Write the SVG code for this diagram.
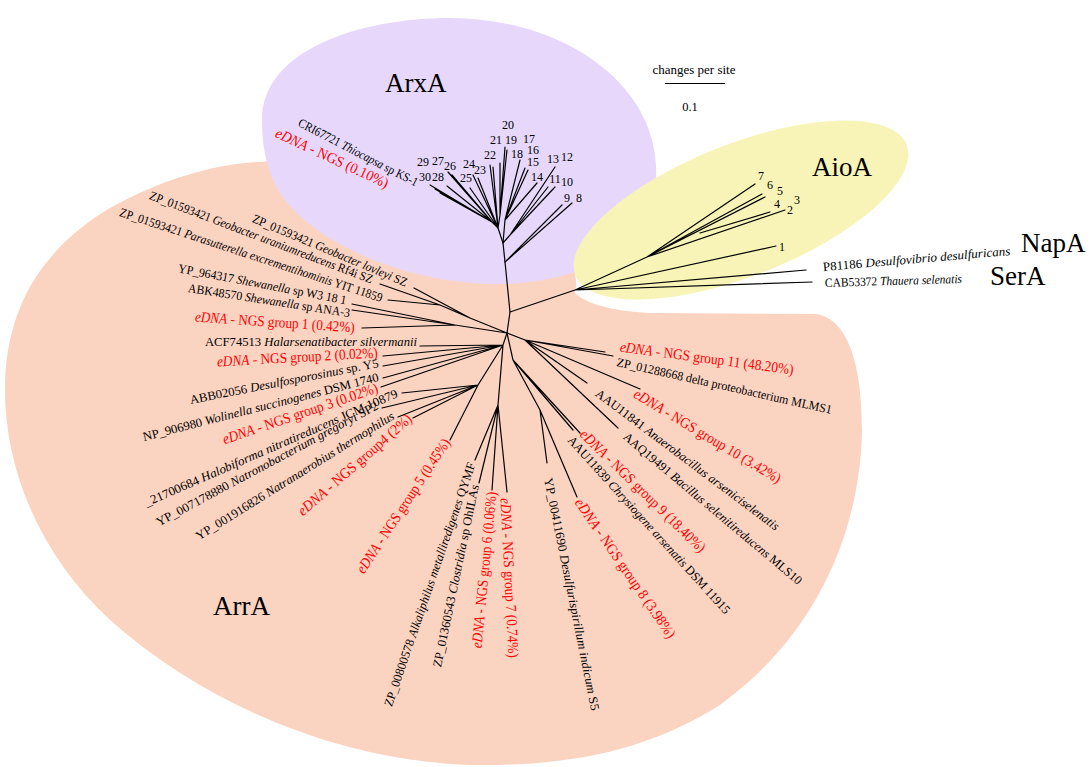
<svg xmlns="http://www.w3.org/2000/svg" width="1092" height="767" viewBox="0 0 1092 767">
<style>
text{font-family:"Liberation Serif","Times New Roman",serif;}
.b{font-size:12.5px;fill:#000;}
.r{font-size:15px;fill:#ff0000;}
.n{font-size:12px;fill:#000;text-anchor:middle;}
.big{font-size:27px;fill:#000;}
.i{font-style:italic;}
.br{fill:none;stroke:#000;stroke-width:1.2;stroke-linecap:round;}
</style>
<rect width="1092" height="767" fill="#fff"/>
<g id="regions">
<path id="ArrA-region" fill="#FBD3C1" d="M575,293 C585,303 610,311 650,313 L815,314 C850,318 862,370 862,430 C860,540 810,640 720,705 C640,755 560,766 470,765 C330,760 200,700 110,620 C40,555 5,470 5,390 C5,310 40,250 110,208 C160,180 215,163 262,162 L330,150 C420,150 520,200 560,240 C575,262 578,280 575,293 Z"/>
<path id="ArxA-region" fill="#E7D8FB" d="M262,120 C262,50 360,18 450,18 C560,18 652,80 656,165 C660,245 585,283 500,284 C410,285 320,245 285,200 C268,178 262,150 262,120 Z"/>
<ellipse id="AioA-region" fill="#F8F4B8" cx="741" cy="210" rx="178" ry="66" transform="rotate(-21.5 741 210)"/>
</g>
<g id="connectors" class="br">
<path d="M507,333 L510,312 L505,262 L503,243 L498,228"/>
<path d="M510,312 L575,290 M575,290 L806,270 M575,290 L812,282 M575,290 L776,246 M575,290 L647,257 M647,257 L755,184 M647,257 L762,194 M647,257 L765,197 M647,257 L785,210 M700,233 L770,212"/>
<path d="M505,262 L572,203 M505,262 L562,205 M503,243 L510,235 M510,235 L555,167 M510,235 L548,187 M510,235 L555,187 M503,243 L505,220 M505,220 L520,160 M505,220 L525,168 M505,220 L528,170 M505,220 L537,183 M498,228 L500,215 M500,215 L505,147 M500,215 L507,150 M500,215 L500,163 M498,228 L492,222 M492,222 L430,185 M492,222 L435,189 M492,222 L440,193 M492,222 L447,186 M492,222 L448,172 M492,222 L452,175 M498,228 L470,188 M498,228 L473,175 M498,228 L478,178 M498,228 L493,167 M498,228 L490,165"/>
<path d="M507,333 L470,318 M470,318 L440,305 M440,305 L380,284 M440,305 L388,300 M470,318 L414,288 M507,333 L455,325 M455,325 L352,304 M455,325 L352,310 M455,325 L362,328"/>
<path d="M507,333 L503,345 M503,345 L420,346 M503,345 L383,356 M503,345 L383,366 M503,345 L383,378 M503,345 L381,387 M503,345 L478,385 M478,385 L402,393 M478,385 L382,408 M478,385 L398,417 M478,385 L413,418 M478,385 L450,440 M503,345 L498,405 M498,405 L475,460 M498,405 L479,483 M498,405 L492,490 M498,405 L507,492"/>
<path d="M507,333 L513,360 M513,360 L540,410 M540,410 L547,463 M540,410 L577,497 M513,360 L573,430 M513,360 L580,433 M507,333 L525,340 M525,340 L605,352 M525,340 L613,356 M525,340 L587,383 M525,340 L640,389 M525,340 L618,428"/>
</g>
<g id="clade-labels">
<text class="big" x="385" y="92">ArxA</text>
<text class="big" x="812" y="176">AioA</text>
<text class="big" x="1021" y="252">NapA</text>
<text class="big" x="990" y="285">SerA</text>
<text class="big" x="213" y="615">ArrA</text>
</g>
<g id="scale">
<text x="694" y="74" style="font-size:13px;text-anchor:middle">changes per site</text>
<path d="M665,83.5 L725,83.5" stroke="#000" stroke-width="1.2"/>
<text x="690" y="111" style="font-size:12.5px;text-anchor:middle">0.1</text>
</g>
<g id="arxa-tips">
<text class="n" x="508" y="129">20</text>
<text class="n" x="496" y="144">21</text>
<text class="n" x="511" y="144">19</text>
<text class="n" x="529" y="143">17</text>
<text class="n" x="490" y="159">22</text>
<text class="n" x="517" y="158">18</text>
<text class="n" x="533" y="154">16</text>
<text class="n" x="533" y="166">15</text>
<text class="n" x="553" y="163">13</text>
<text class="n" x="567" y="161">12</text>
<text class="n" x="537" y="181">14</text>
<text class="n" x="555" y="183">11</text>
<text class="n" x="567" y="186">10</text>
<text class="n" x="567" y="202">9</text>
<text class="n" x="579" y="202">8</text>
<text class="n" x="423" y="166">29</text>
<text class="n" x="438" y="165">27</text>
<text class="n" x="450" y="170">26</text>
<text class="n" x="425" y="181">30</text>
<text class="n" x="438" y="181">28</text>
<text class="n" x="469" y="168">24</text>
<text class="n" x="480" y="174">23</text>
<text class="n" x="466" y="182">25</text>
<text class="b" transform="translate(297.2,125.6) rotate(27.3)" textLength="133" lengthAdjust="spacingAndGlyphs">CRI67721 <tspan class="i">Thiocapsa</tspan> sp KS-1</text>
<text class="r" transform="translate(274.3,136.6) rotate(24.9)" textLength="123" lengthAdjust="spacingAndGlyphs"><tspan class="i">eDNA</tspan> - NGS (0.10%)</text>
</g>
<g id="aioa-tips">
<text class="n" x="761" y="180">7</text>
<text class="n" x="770" y="189">6</text>
<text class="n" x="780" y="195">5</text>
<text class="n" x="797" y="204">3</text>
<text class="n" x="777" y="208">4</text>
<text class="n" x="790" y="214">2</text>
<text class="n" x="782" y="251">1</text>
</g>
<g id="outgroup-tips">
<text class="b" transform="translate(823.3,271) rotate(-4.9)" textLength="188" lengthAdjust="spacingAndGlyphs">P81186 <tspan class="i">Desulfovibrio desulfuricans</tspan></text>
<text class="b" transform="translate(825.1,287) rotate(-1.7)" textLength="137" lengthAdjust="spacingAndGlyphs">CAB53372 <tspan class="i">Thauera selenatis</tspan></text>
</g>
<g id="arra-tips">
<text class="b" transform="translate(251.4,221.7) rotate(22.9)" textLength="167" lengthAdjust="spacingAndGlyphs">ZP_01593421 <tspan class="i">Geobacter lovleyi</tspan> SZ</text>
<text class="b" transform="translate(148.6,198.7) rotate(20.9)" textLength="238" lengthAdjust="spacingAndGlyphs">ZP_01593421 <tspan class="i">Geobacter uraniumreducens</tspan> Rf4i SZ</text>
<text class="b" transform="translate(118.8,215.8) rotate(18.2)" textLength="276" lengthAdjust="spacingAndGlyphs">ZP_01593421 <tspan class="i">Parasutterella excrementihominis</tspan> YIT 11859</text>
<text class="b" transform="translate(177.6,272.2) rotate(10.8)" textLength="171" lengthAdjust="spacingAndGlyphs">YP_964317 <tspan class="i">Shewanella</tspan> sp W3 18 1</text>
<text class="b" transform="translate(187.4,292) rotate(8.8)" textLength="164" lengthAdjust="spacingAndGlyphs">ABK48570 <tspan class="i">Shewanella</tspan> sp ANA-3</text>
<text class="r" transform="translate(194.7,321.5) rotate(3.9)" textLength="160" lengthAdjust="spacingAndGlyphs"><tspan class="i">eDNA</tspan> - NGS group 1 (0.42%)</text>
<text class="b" transform="translate(205,346)" textLength="212" lengthAdjust="spacingAndGlyphs">ACF74513 <tspan class="i">Halarsenatibacter silvermanii</tspan></text>
<text class="r" transform="translate(217.2,366.5) rotate(-3.2)" textLength="161" lengthAdjust="spacingAndGlyphs"><tspan class="i">eDNA</tspan> - NGS group 2 (0.02%)</text>
<text class="b" transform="translate(190.8,403.9) rotate(-11.1)" textLength="192" lengthAdjust="spacingAndGlyphs">ABB02056 <tspan class="i">Desulfosporosinus</tspan> sp. Y5</text>
<text class="b" transform="translate(144,440.9) rotate(-14.3)" textLength="243" lengthAdjust="spacingAndGlyphs">NP_906980 <tspan class="i">Wolinella succinogenes</tspan> DSM 1740</text>
<text class="r" transform="translate(224.5,444.3) rotate(-18.7)" textLength="163" lengthAdjust="spacingAndGlyphs"><tspan class="i">eDNA</tspan> - NGS group 3 (0.02%)</text>
<text class="b" transform="translate(146.6,506.7) rotate(-23.6)" textLength="275" lengthAdjust="spacingAndGlyphs">_21700684 <tspan class="i">Halobiforma nitratireducens</tspan> JCM 10879</text>
<text class="b" transform="translate(158.9,526.5) rotate(-28.2)" textLength="250" lengthAdjust="spacingAndGlyphs">YP_007178880 <tspan class="i">Natronobacterium gregoryi</tspan> SP2</text>
<text class="b" transform="translate(199.1,540.4) rotate(-31.9)" textLength="231" lengthAdjust="spacingAndGlyphs">YP_001916826 <tspan class="i">Natranaerobius thermophilus</tspan></text>
<text class="r" transform="translate(303,516.5) rotate(-41.1)" textLength="146" lengthAdjust="spacingAndGlyphs"><tspan class="i">eDNA</tspan> - NGS group4 (2%)</text>
<text class="r" transform="translate(363.8,574.6) rotate(-56.6)" textLength="158" lengthAdjust="spacingAndGlyphs"><tspan class="i">eDNA</tspan> - NGS group 5 (0.45%)</text>
<text class="b" transform="translate(391.8,707.3) rotate(-71)" textLength="257" lengthAdjust="spacingAndGlyphs">ZP_00800578 <tspan class="i">Alkaliphilus metalliredigenes</tspan> QYMF</text>
<text class="b" transform="translate(440.9,667.8) rotate(-78.2)" textLength="186" lengthAdjust="spacingAndGlyphs">ZP_01360543 <tspan class="i">Clostridia</tspan> sp OhILAs</text>
<text class="r" transform="translate(481.5,648.4) rotate(-84.5)" textLength="157" lengthAdjust="spacingAndGlyphs"><tspan class="i">eDNA</tspan> - NGS group 6 (0.06%)</text>
<text class="r" transform="translate(500.5,498.2) rotate(87.1)" textLength="160" lengthAdjust="spacingAndGlyphs"><tspan class="i">eDNA</tspan> - NGS group 7 (0.74%)</text>
<text class="b" transform="translate(544.1,478.8) rotate(78.5)" textLength="237" lengthAdjust="spacingAndGlyphs">YP_00411690 <tspan class="i">Desulfurispirillum indicum</tspan> S5</text>
<text class="r" transform="translate(574.3,502.6) rotate(55.5)" textLength="166" lengthAdjust="spacingAndGlyphs"><tspan class="i">eDNA</tspan> - NGS group 8 (3.98%)</text>
<text class="b" transform="translate(567,440.7) rotate(47.8)" textLength="235" lengthAdjust="spacingAndGlyphs">AAU11839 <tspan class="i">Chrysiogene arsenatis</tspan> DSM 11915</text>
<text class="r" transform="translate(578.9,435.3) rotate(44.3)" textLength="169" lengthAdjust="spacingAndGlyphs"><tspan class="i">eDNA</tspan> - NGS group 9 (18.40%)</text>
<text class="b" transform="translate(622.4,438.1) rotate(40)" textLength="229" lengthAdjust="spacingAndGlyphs">AAQ19491 <tspan class="i">Bacillus selenitireducens</tspan> MLS10</text>
<text class="b" transform="translate(594.6,395.2) rotate(36.9)" textLength="226" lengthAdjust="spacingAndGlyphs">AAU11841 <tspan class="i">Anaerobacillus arseniciselenatis</tspan></text>
<text class="r" transform="translate(632.6,396.8) rotate(31)" textLength="169" lengthAdjust="spacingAndGlyphs"><tspan class="i">eDNA</tspan> - NGS group 10 (3.42%)</text>
<text class="b" transform="translate(616.1,365.9) rotate(12.6)" textLength="220" lengthAdjust="spacingAndGlyphs">ZP_01288668 delta proteobacterium MLMS1</text>
<text class="r" transform="translate(619.4,351.5) rotate(7.6)" textLength="175" lengthAdjust="spacingAndGlyphs"><tspan class="i">eDNA</tspan> - NGS group 11 (48.20%)</text>
</g>
</svg>
